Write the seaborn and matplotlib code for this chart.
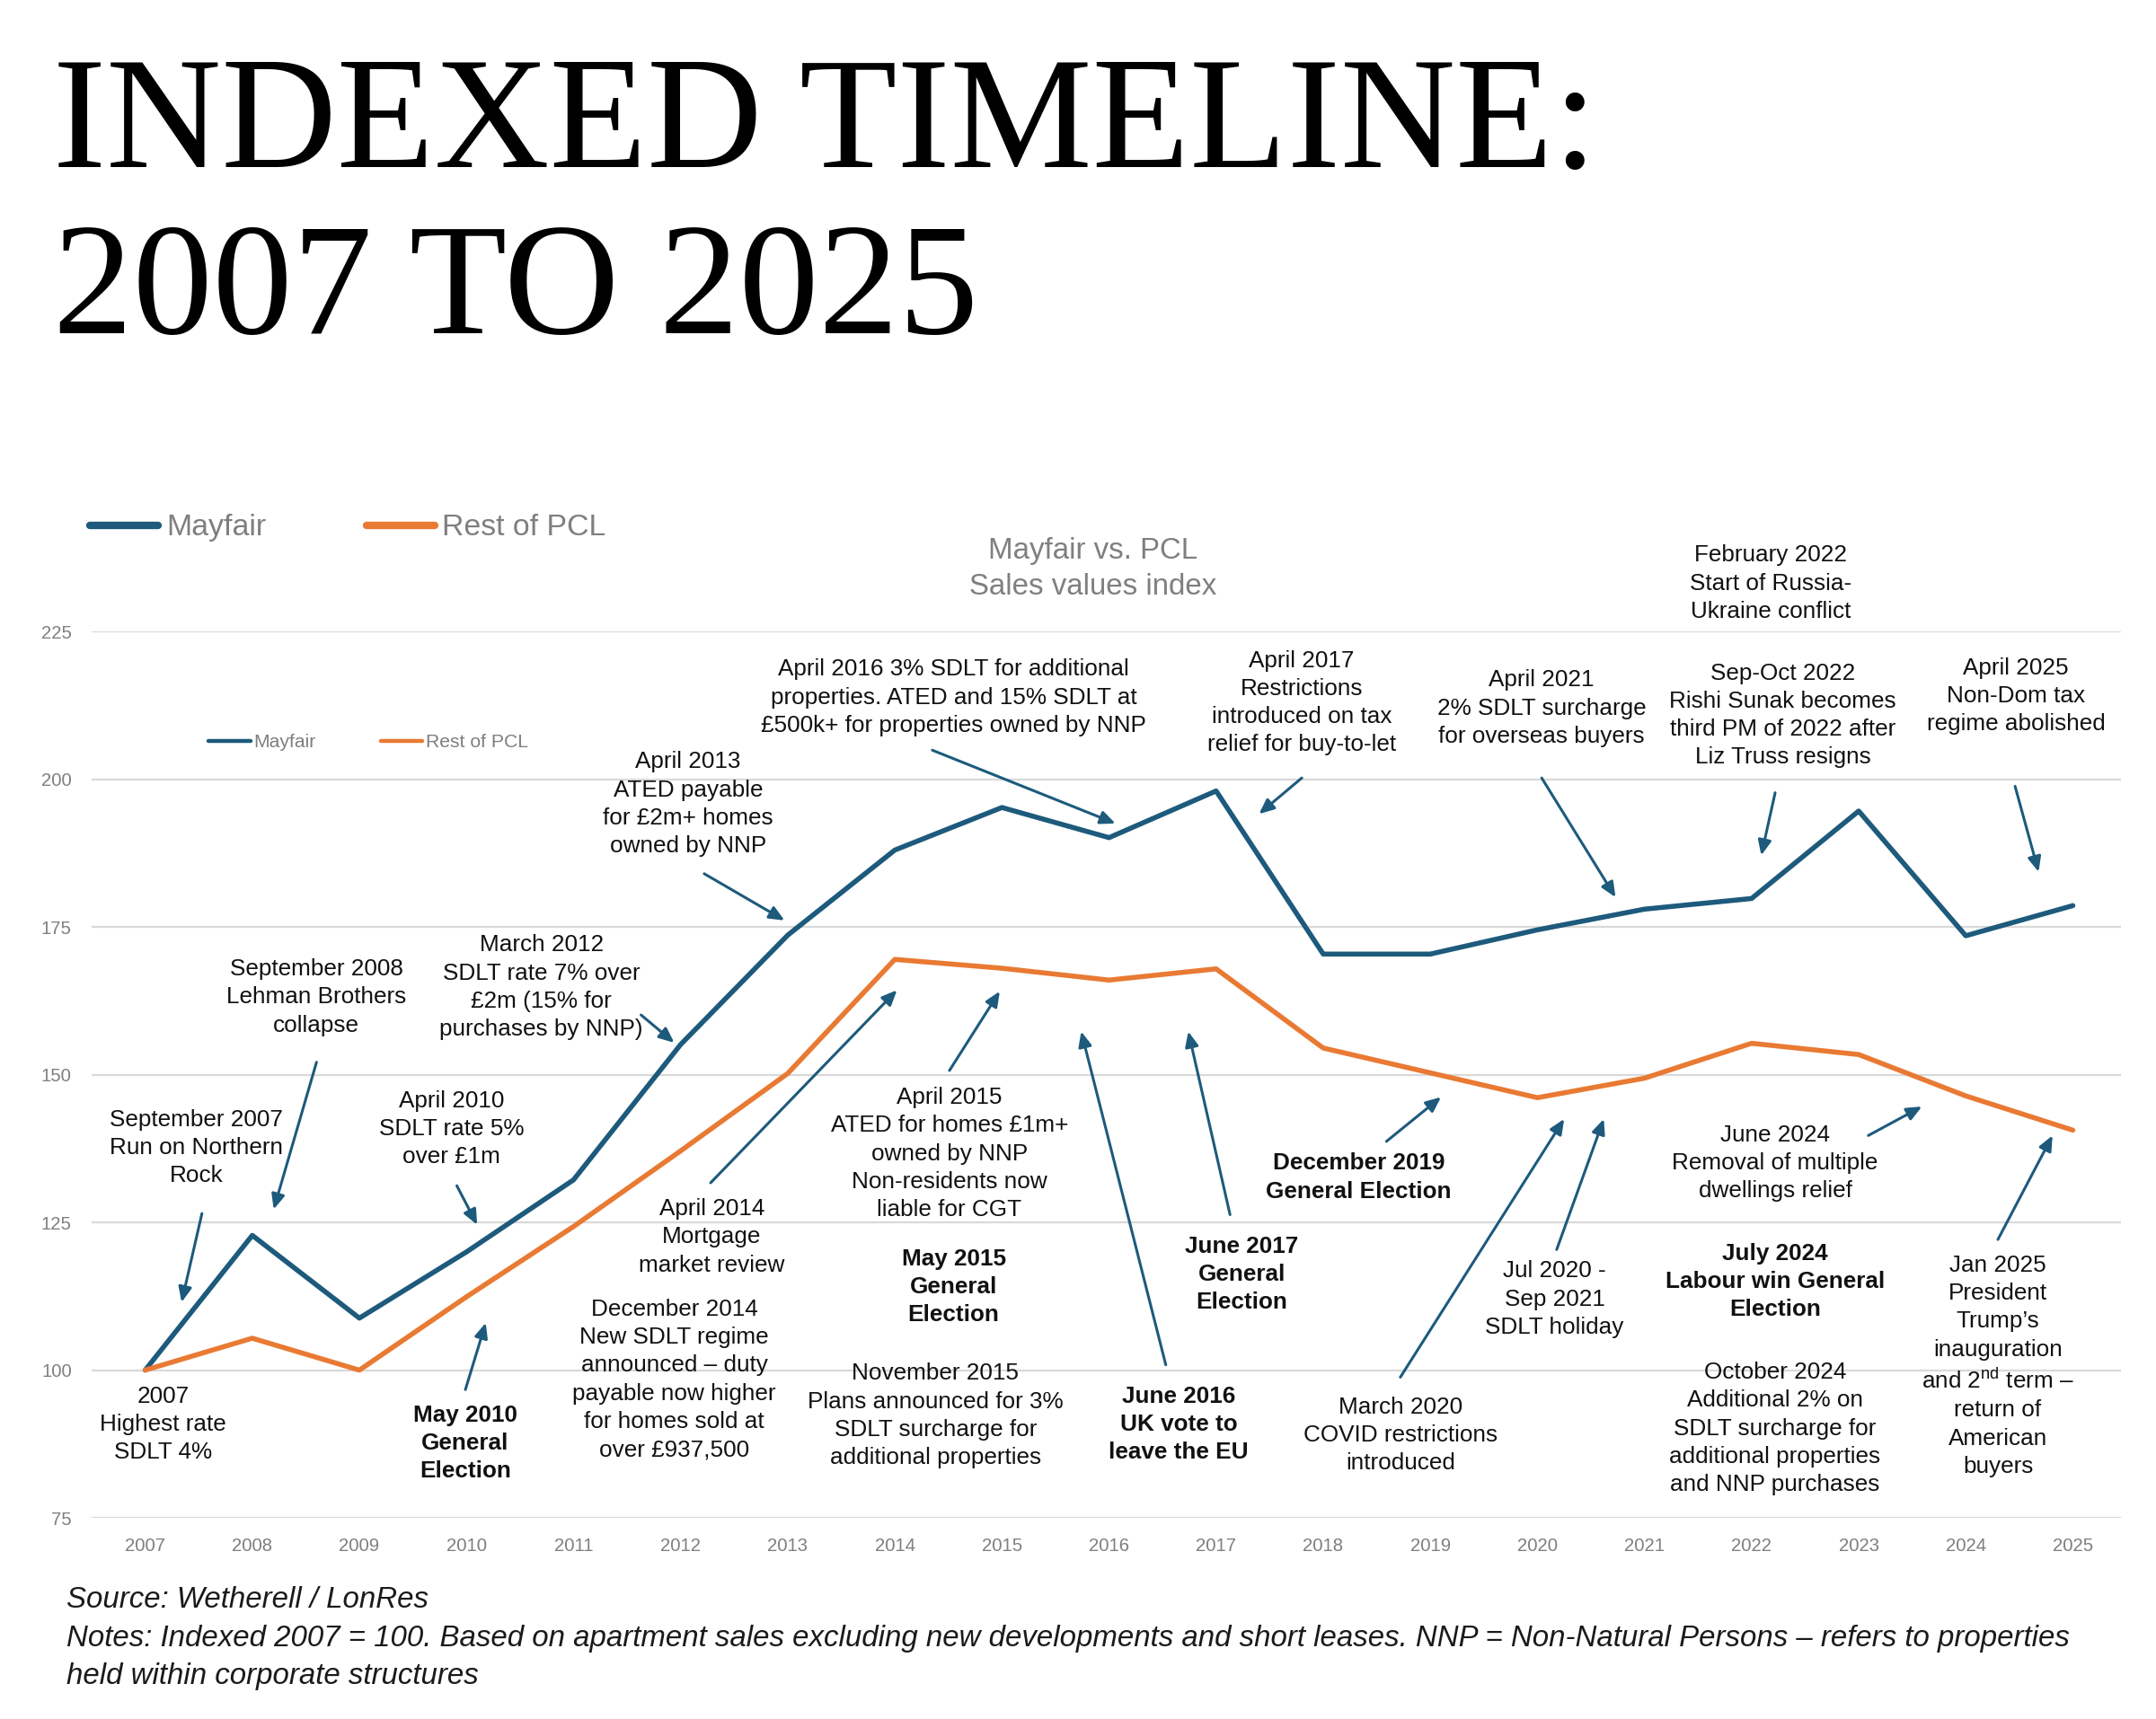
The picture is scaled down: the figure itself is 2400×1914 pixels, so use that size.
import pandas as pd
import matplotlib
matplotlib.use("Agg")
import matplotlib.pyplot as plt
import seaborn as sns

# Index values (2007 = 100)
years = list(range(2007, 2026))
mayfair = [100, 122.8, 108.8, 120.0, 132.2, 155.1, 173.6, 188.0, 195.2, 190.1,
           198.0, 170.4, 170.4, 174.5, 178.0, 179.8, 194.6, 173.5, 178.6]
rest_of_pcl = [100, 105.4, 100.0, 112.4, 124.3, 137.1, 150.2, 169.5, 168.0, 166.0,
               167.9, 154.5, 150.3, 146.1, 149.4, 155.3, 153.4, 146.4, 140.6]
series_names = ["Mayfair", "Rest of PCL"]
y_ticks = [75, 100, 125, 150, 175, 200, 225]

BLUE = "#1d5a7c"
ORANGE = "#e97a33"
GREY = "#7f7f7f"

# Timeline notes: (text, x, y, bold)
notes = [
    ("September 2007\nRun on Northern\nRock", 2007.48, 137.6, False),
    ("September 2008\nLehman Brothers\ncollapse", 2008.60, 163.1, False),
    ("2007\nHighest rate\nSDLT 4%", 2007.17, 90.8, False),
    ("April 2010\nSDLT rate 5%\nover £1m", 2009.86, 140.8, False),
    ("May 2010\nGeneral\nElection", 2009.99, 87.6, True),
    ("March 2012\nSDLT rate 7% over\n£2m (15% for\npurchases by NNP)", 2010.70, 164.8, False),
    ("April 2013\nATED payable\nfor £2m+ homes\nowned by NNP", 2012.07, 195.8, False),
    ("December 2014\nNew SDLT regime\nannounced – duty\npayable now higher\nfor homes sold at\nover £937,500",
     2011.94, 98.4, False),
    ("April 2014\nMortgage\nmarket review", 2012.29, 122.5, False),
    ("April 2015\nATED for homes £1m+\nowned by NNP\nNon-residents now\nliable for CGT", 2014.51, 136.6, False),
    ("May 2015\nGeneral\nElection", 2014.55, 114.1, True),
    ("November 2015\nPlans announced for 3%\nSDLT surcharge for\nadditional properties", 2014.38, 92.3, False),
    ("April 2016 3% SDLT for additional\nproperties. ATED and 15% SDLT at\n£500k+ for properties owned by NNP",
     2014.55, 213.8, False),
    ("June 2016\nUK vote to\nleave the EU", 2016.65, 90.8, True),
    ("April 2017\nRestrictions\nintroduced on tax\nrelief for buy-to-let", 2017.80, 212.9, False),
    ("June 2017\nGeneral\nElection", 2017.24, 116.2, True),
    ("December 2019\nGeneral Election", 2018.33, 132.6, True),
    ("March 2020\nCOVID restrictions\nintroduced", 2018.72, 89.0, False),
    ("Jul 2020 -\nSep 2021\nSDLT holiday", 2020.16, 112.0, False),
    ("April 2021\n2% SDLT surcharge\nfor overseas buyers", 2020.04, 212.0, False),
    ("February 2022\nStart of Russia-\nUkraine conflict", 2022.18, 233.1, False),
    ("Sep-Oct 2022\nRishi Sunak becomes\nthird PM of 2022 after\nLiz Truss resigns", 2022.29, 210.8, False),
    ("June 2024\nRemoval of multiple\ndwellings relief", 2022.22, 135.0, False),
    ("July 2024\nLabour win General\nElection", 2022.22, 115.0, True),
    ("October 2024\nAdditional 2% on\nSDLT surcharge for\nadditional properties\nand NNP purchases",
     2022.22, 90.1, False),
    ("April 2025\nNon-Dom tax\nregime abolished", 2024.47, 214.1, False),
    ("Jan 2025\nPresident\nTrump’s\ninauguration\nand 2$^{\\mathrm{nd}}$ term –\nreturn of\nAmerican\nbuyers",
     2024.30, 100.7, False),
]

# Arrows: (tail x, tail y, head x, head y)
arrows = [
    (2007.53, 126.5, 2007.34, 111.5),
    (2008.60, 152.1, 2008.20, 127.2),
    (2009.91, 131.2, 2010.10, 124.6),
    (2009.99, 96.7, 2010.18, 108.0),
    (2011.63, 160.1, 2011.94, 155.4),
    (2012.22, 184.0, 2012.97, 176.1),
    (2012.28, 131.7, 2014.02, 164.3),
    (2014.51, 150.7, 2014.98, 164.1),
    (2014.35, 204.9, 2016.06, 192.5),
    (2016.53, 100.9, 2015.74, 157.3),
    (2017.80, 200.2, 2017.40, 194.1),
    (2017.13, 126.3, 2016.74, 157.3),
    (2018.59, 138.7, 2019.10, 146.2),
    (2018.72, 98.8, 2020.25, 142.5),
    (2020.18, 120.4, 2020.62, 142.5),
    (2020.04, 200.2, 2020.73, 180.0),
    (2022.22, 197.7, 2022.09, 187.1),
    (2023.09, 139.7, 2023.59, 144.6),
    (2024.46, 198.8, 2024.68, 184.3),
    (2024.30, 122.1, 2024.81, 139.7),
]

df = pd.DataFrame({
    "year": years * 2,
    "index": mayfair + rest_of_pcl,
    "series": [series_names[0]] * len(years) + [series_names[1]] * len(years),
})

sns.set_style("white")
plt.rcParams["font.family"] = ["Liberation Sans", "DejaVu Sans"]
plt.rcParams["mathtext.fontset"] = "custom"
plt.rcParams["mathtext.rm"] = "Liberation Sans"

fig = plt.figure(figsize=(12, 9.57), dpi=200)
ax = fig.add_axes([0.0425, 0.117, 0.9413, 0.5157])

sns.lineplot(data=df, x="year", y="index", hue="series",
             palette={series_names[0]: BLUE, series_names[1]: ORANGE},
             linewidth=2.0, legend=False, ax=ax)

ax.set_xlim(2006.5, 2025.45)
ax.set_ylim(75, 225)
ax.set_xticks(years)
ax.set_xticklabels([str(y) for y in years])
ax.set_yticks(y_ticks)
ax.tick_params(axis="both", length=0, labelsize=7.3, labelcolor=GREY, pad=8)
ax.set_xlabel("")
ax.set_ylabel("")
ax.yaxis.grid(True, color="#d9d9d9", linewidth=0.8)
ax.xaxis.grid(False)
for s in ax.spines.values():
    s.set_visible(False)

lines = ax.get_lines()[:2]

# big legend above the chart
leg_big = ax.legend(lines, series_names, loc="center left", bbox_to_anchor=(0.0417, 0.6928),
                    bbox_transform=fig.transFigure, ncol=2, frameon=False, fontsize=12.2,
                    borderpad=0, borderaxespad=0,
                    handlelength=2.25, handletextpad=0.25, columnspacing=3.3, labelcolor=GREY)
for h in leg_big.legend_handles:
    h.set_linewidth(3.0)
    h.set_solid_capstyle("round")
ax.add_artist(leg_big)

# small legend inside the plot
leg_small = ax.legend(lines, series_names, loc="center left", bbox_to_anchor=(0.0967, 0.568),
                      bbox_transform=fig.transFigure, ncol=2, frameon=False, fontsize=7.6,
                      borderpad=0, borderaxespad=0,
                      handlelength=2.2, handletextpad=0.2, columnspacing=3.4, labelcolor=GREY)
for h in leg_small.legend_handles:
    h.set_linewidth(1.6)

# chart title
fig.text(0.507, 0.669, "Mayfair vs. PCL\nSales values index", ha="center", va="center",
         fontsize=11.9, color=GREY, linespacing=1.35)

for txt, x, y, bold in notes:
    ax.text(x, y, txt, ha="center", va="center", fontsize=9.4, color="#111111",
            fontweight="bold" if bold else "normal", linespacing=1.38)

for x0, y0, x1, y1 in arrows:
    ax.annotate("", xy=(x1, y1), xytext=(x0, y0),
                arrowprops=dict(arrowstyle="-|>,head_length=0.5,head_width=0.22",
                                color=BLUE, lw=1.1, mutation_scale=10,
                                shrinkA=0, shrinkB=0))

# big serif title
fig.text(0.0245, 1 - 186 / 1914, "INDEXED TIMELINE:", ha="left", va="baseline",
         fontsize=64, family=["Liberation Serif", "DejaVu Serif"], color="#000000")
fig.text(0.0245, 1 - 371 / 1914, "2007 TO 2025", ha="left", va="baseline",
         fontsize=64, family=["Liberation Serif", "DejaVu Serif"], color="#000000")

# footer
foot_kw = dict(ha="left", va="center", fontsize=11.9, style="italic", color="#1a1a1a")
fig.text(0.031, 1 - 1781 / 1914, "Source: Wetherell / LonRes", **foot_kw)
fig.text(0.031, 1 - 1824 / 1914,
         "Notes: Indexed 2007 = 100. Based on apartment sales excluding new developments and short leases. "
         "NNP = Non-Natural Persons – refers to properties", **foot_kw)
fig.text(0.031, 1 - 1866 / 1914, "held within corporate structures", **foot_kw)

fig.savefig("out.png", dpi=200, facecolor="white")
